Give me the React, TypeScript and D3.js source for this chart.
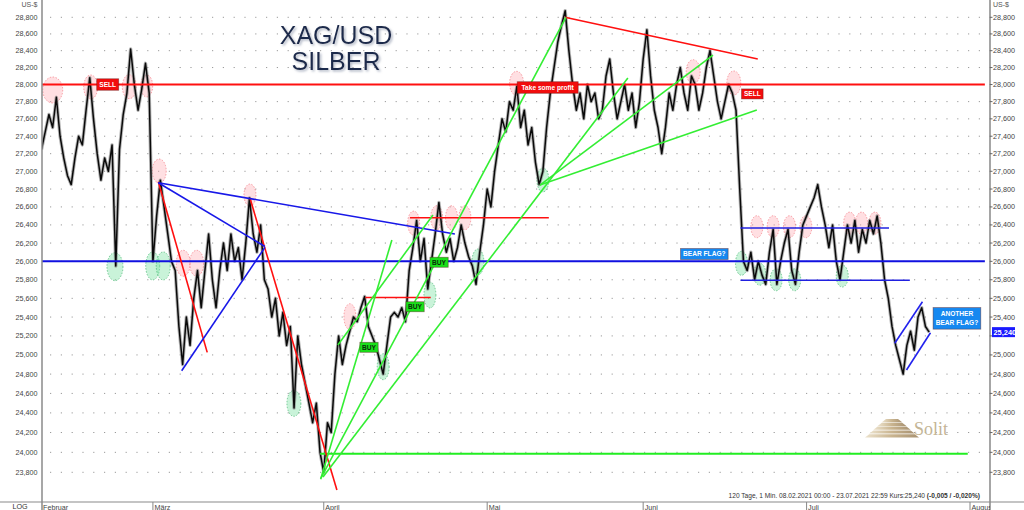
import React from "react";
import * as d3 from "d3";

// Silver (XAG/USD), 1-minute data compressed to half-day samples, 08.02.2021 – 23.07.2021
const STEP = 0.5; // trading days per sample
const PRICES: number[] = [
  27250, 27450, 27650, 27500, 27850, 27400, 27150, 26950, 26850, 27150,
  27400, 27300, 27700, 28080, 27600, 27200, 26900, 27150, 27000, 27300,
  25950, 27250, 27650, 27900, 28420, 28000, 27700, 27950, 28250, 27900,
  26000, 26500, 26900, 26600, 26300, 26000, 25900, 25300, 24900, 25400,
  25100, 25600, 25900, 25500, 25900, 26300, 25800, 25500, 25900, 26200,
  25900, 26300, 26000, 26150, 25800, 26200, 26700, 26300, 26100, 26400,
  25800, 25700, 25400, 25600, 25200, 25450, 25100, 25300, 24450, 25200,
  24900, 24700, 24500, 24300, 24500, 24000, 23800, 24300, 24200, 24800,
  25200, 24900, 25100, 25250, 25400, 25350, 25500, 25620, 25300, 25200,
  25100, 24950, 24800, 25100, 25400, 25450, 25400, 25500, 25350, 25900,
  26150, 26450, 26000, 26250, 25700, 26000, 26300, 26650, 26300, 26100,
  26250, 26000, 26150, 26400, 26200, 26050, 25950, 25750, 26100, 26400,
  26800, 26600, 27000, 27300, 27600, 27450, 27800, 27700, 27980, 27500,
  27700, 27300, 27500, 27100, 26850, 27000, 27500, 27900, 28200, 28500,
  28700, 28880, 28400, 28000, 27700, 27900, 27600, 28000, 27800, 27900,
  27600, 27700, 28100, 28300, 27900, 27600, 27800, 28000, 27700, 27900,
  27500, 27800, 28300, 28650, 28100, 27700, 27500, 27200, 27500, 27900,
  27700, 28000, 28200, 27900, 27700, 28100, 28000, 27700, 27900, 28200,
  28400, 28100, 27800, 27600, 27800, 28000, 27900, 27700, 26800, 26000,
  25900, 26100, 25800, 26000, 25850, 25750, 26100, 26350, 25750, 26000,
  26200, 26350, 25900, 25750, 26100, 26400, 26500, 26600, 26700, 26850,
  26600, 26400, 26150, 26400, 26000, 25800, 26100, 26400, 26200, 26450,
  26100, 26350, 26200, 26450, 26300, 26500, 26200, 25800, 25600, 25300,
  25100, 24950, 24800, 25100, 25250, 25050, 25400, 25500, 25300, 25240,
];

const LAST_PRICE = 25240;
const PRICE_TICKS = [
  23800, 24000, 24200, 24400, 24600, 24800, 25000, 25200, 25400, 25600,
  25800, 26000, 26200, 26400, 26600, 26800, 27000, 27200, 27400, 27600,
  27800, 28000, 28200, 28400, 28600, 28800,
];
const MONTH_LABELS = ["Februar", "März", "April", "Mai", "Juni", "Juli", "August"];
const MONTH_DAYS = [0, 15, 38, 60, 81, 103, 125];

// horizontal levels: [price, fromDay, toDay, colour]
type Level = [number, number, number, string];
const LEVELS: Level[] = [
  [28000, 0, 127, "#ff1010"],
  [26000, 0, 127, "#1010e0"],
  [26480, 49.6, 68.3, "#ff1010"],
  [25610, 43.6, 52.4, "#ff1010"],
  [26365, 94.1, 114.1, "#2020e0"],
  [25796, 94.1, 116.9, "#2020e0"],
  [23985, 37.5, 124.7, "#22ee22"],
];

// trend lines: [day1, price1, day2, price2, colour]
type Trend = [number, number, number, number, string];
const TRENDS: Trend[] = [
  [15.72, 26882, 22.31, 25027, "#ff1010"],
  [28.06, 26699, 39.77, 23624, "#ff1010"],
  [70.46, 28800, 96.43, 28301, "#ff1010"],
  [15.72, 26871, 55.65, 26300, "#1818e8"],
  [15.72, 26871, 30.08, 26162, "#1818e8"],
  [18.87, 24835, 30.08, 26153, "#1818e8"],
  [114.87, 25122, 118.6, 25564, "#2222ee"],
  [116.45, 24842, 119.68, 25234, "#2222ee"],
  [37.62, 23743, 70.6, 28800, "#33ee33"],
  [37.58, 23730, 47.17, 26234, "#33ee33"],
  [39.9, 25104, 52.7, 26510, "#33ee33"],
  [37.89, 23753, 78.94, 28077, "#33ee33"],
  [67.1, 26845, 90.4, 28348, "#33ee33"],
  [67.1, 26845, 96.3, 27703, "#33ee33"],
];

// highlighted zones: [day, price, rx, ry]
type Zone = [number, number, number, number];
const SELL_ZONES: Zone[] = [
  [1.51, 27936, 10, 13], [6.62, 27971, 7, 12], [11.82, 27975, 7, 12], [14.16, 27983, 6, 11],
  [15.85, 27003, 7, 12], [19.08, 25979, 7, 13], [20.89, 25979, 7, 13], [28.06, 26733, 6, 11],
  [41.52, 25404, 6, 13], [63.96, 28014, 7, 12], [87.73, 28151, 7, 12], [93.2, 28018, 7, 12],
  [50.1, 26420, 6, 12], [53.2, 26480, 6, 12], [55.2, 26480, 6, 12], [57.0, 26480, 6, 12],
  [96.3, 26380, 6, 11], [98.5, 26380, 6, 11], [100.7, 26380, 6, 11], [102.9, 26380, 6, 11],
  [108.8, 26420, 6, 11], [110.4, 26420, 6, 11], [112.2, 26420, 6, 11],
];
const BUY_ZONES: Zone[] = [
  [9.89, 25942, 8, 14], [14.97, 25950, 7, 14], [16.39, 25950, 7, 14], [33.98, 24498, 7, 13],
  [46.0, 24877, 6, 13], [52.29, 25636, 6, 13], [58.75, 25993, 6, 13], [67.5, 26902, 6, 12],
  [94.24, 25979, 6, 12], [96.7, 25860, 6, 11], [98.9, 25800, 6, 11], [101.4, 25800, 6, 11],
  [107.8, 25840, 6, 11],
];

// annotation boxes: [text lines, leftDay, centrePrice, width, height, kind]
type Note = [string[], number, number, number, number, "sell" | "buy" | "info"];
const NOTES: Note[] = [
  [["SELL"], 7.43, 28000, 22, 11.5, "sell"],
  [["Take some profit"], 64.04, 27965, 61, 11.6, "sell"],
  [["SELL"], 94.24, 27890, 21.6, 10, "sell"],
  [["BEAR FLAG?"], 86.03, 26080, 47.6, 11, "info"],
  [["ANOTHER", "BEAR FLAG?"], 120.03, 25386, 47.7, 21.6, "info"],
  [["BUY"], 52.29, 25990, 18.3, 10, "buy"],
  [["BUY"], 49.06, 25510, 18.3, 10, "buy"],
  [["BUY"], 42.86, 25080, 18.3, 10, "buy"],
];

const NOTE_STYLE = {
  sell: { fill: "#f20d0d", text: "#ffffff" },
  buy: { fill: "#19e019", text: "#0a2a0a" },
  info: { fill: "#1688f0", text: "#ffffff" },
};

const FONT = "'Liberation Sans', Arial, sans-serif";

export default function App() {
  const W = 1024;
  const H = 510;
  const left = 42;
  const right = 990;
  const bottom = 502;

  const x = d3.scaleLinear().domain([0, 125]).range([41.5, 970]);
  const y = d3.scaleLog().domain([23800, 28800]).range([472.3, 17.3]);
  const fmt = (v: number) => d3.format(",")(v);

  const pricePath = d3
    .line<number>()
    .x((_, i) => x(i * STEP))
    .y((d) => y(d))(PRICES) as string;

  // the last-price badge covers the neighbouring right-hand tick label
  const lastY = y(LAST_PRICE);

  return (
    <svg
      width={W}
      height={H}
      style={{ position: "fixed", left: 0, top: 0, background: "#fff" }}
      fontFamily={FONT}
    >
      <defs>
        <clipPath id="plot">
          <rect x={left} y={0} width={right - left} height={bottom} />
        </clipPath>
        <clipPath id="axisx">
          <rect x={left} y={bottom} width={right - left} height={H - bottom} />
        </clipPath>
        <filter id="shadow" x="-10%" y="-10%" width="130%" height="140%">
          <feDropShadow dx="1.5" dy="1.5" stdDeviation="1.2" floodColor="#9aa3b5" floodOpacity="0.8" />
        </filter>
        <linearGradient id="pyr" x1="0" x2="1" y1="0" y2="0">
          <stop offset="0" stopColor="#ece2cc" />
          <stop offset="0.5" stopColor="#c9b48f" />
          <stop offset="1" stopColor="#a89272" />
        </linearGradient>
      </defs>

      <rect x={0} y={0} width={W} height={H} fill="#fff" />

      {/* dotted price grid */}
      {PRICE_TICKS.map((t) => (
        <line
          key={"g" + t}
          x1={50}
          x2={right}
          y1={y(t)}
          y2={y(t)}
          stroke="#9a9a9a"
          strokeWidth={1}
          strokeDasharray="1.2 9.6"
        />
      ))}

      {/* title */}
      <g filter="url(#shadow)" fill="#1c2a4c" fontFamily={FONT} fontSize={25} textAnchor="middle">
        <text x={336} y={44}>XAG/USD</text>
        <text x={336} y={70}>SILBER</text>
      </g>

      {/* logo */}
      <g>
        {[0, 1, 2, 3, 4].map((i) => {
          const top = 419 + i * 3.8;
          const hw = 6 + i * 4.2;
          const hwB = 6 + (i + 1) * 4.2;
          return (
            <path
              key={"p" + i}
              d={`M${892 - hw},${top} L${892 + hw},${top} L${892 + hwB},${top + 3.2} L${892 - hwB},${top + 3.2} Z`}
              fill="url(#pyr)"
            />
          );
        })}
        <text x={914} y={435} fontFamily="'Liberation Serif', 'DejaVu Serif', serif" fontSize={18} fill="#c4b596">
          Solit
        </text>
      </g>

      <g clipPath="url(#plot)">
        {/* zones */}
        {SELL_ZONES.map(([d, p, rx, ry], i) => (
          <ellipse
            key={"s" + i}
            cx={x(d)}
            cy={y(p)}
            rx={rx}
            ry={ry}
            fill="rgba(255,170,180,0.38)"
            stroke="rgba(240,90,100,0.55)"
            strokeWidth={1}
            strokeDasharray="1.5 1.5"
          />
        ))}
        {BUY_ZONES.map(([d, p, rx, ry], i) => (
          <ellipse
            key={"b" + i}
            cx={x(d)}
            cy={y(p)}
            rx={rx}
            ry={ry}
            fill="rgba(120,225,160,0.4)"
            stroke="rgba(40,170,90,0.6)"
            strokeWidth={1}
            strokeDasharray="1.5 1.5"
          />
        ))}

        {/* price: grey body for the intraday spread, black trace on top */}
        <path d={pricePath} fill="none" stroke="#777" strokeOpacity={0.55} strokeWidth={3.4} strokeLinejoin="round" />
        <path d={pricePath} fill="none" stroke="#0a0a0a" strokeWidth={1.5} strokeLinejoin="round" />

        {/* levels */}
        {LEVELS.map(([p, d1, d2, c], i) => (
          <line key={"l" + i} x1={x(d1)} x2={x(d2)} y1={y(p)} y2={y(p)} stroke={c} strokeWidth={i < 2 || i === 6 ? 2 : 1.5} />
        ))}

        {/* trend lines */}
        {TRENDS.map(([d1, p1, d2, p2, c], i) => (
          <line key={"t" + i} x1={x(d1)} y1={y(p1)} x2={x(d2)} y2={y(p2)} stroke={c} strokeWidth={1.6} />
        ))}

        {/* annotations */}
        {NOTES.map(([lines, d, p, w, h, kind], i) => {
          const st = NOTE_STYLE[kind];
          const bx = x(d);
          const by = y(p) - h / 2;
          return (
            <g key={"n" + i}>
              <rect x={bx} y={by} width={w} height={h} fill={st.fill} stroke="#5a1a1a" strokeOpacity={0.5} strokeWidth={0.8} />
              {lines.map((ln, j) => (
                <text
                  key={j}
                  x={bx + w / 2}
                  y={by + h / 2 + (j - (lines.length - 1) / 2) * 9 + 2.4}
                  textAnchor="middle"
                  fontSize={6.6}
                  fontWeight="bold"
                  fill={st.text}
                >
                  {ln}
                </text>
              ))}
            </g>
          );
        })}
      </g>

      {/* frame */}
      <line x1={left} x2={left} y1={0} y2={H} stroke="#8a8a8a" strokeWidth={1.5} />
      <line x1={right} x2={right} y1={0} y2={H} stroke="#6a6a6a" strokeWidth={1.2} />
      <line x1={0} x2={W} y1={bottom} y2={bottom} stroke="#8a8a8a" strokeWidth={1.2} />

      {/* price axes */}
      <text x={37.5} y={6.5} textAnchor="end" fontSize={7} fill="#555">US-$</text>
      <text x={993} y={6.5} fontSize={7} fill="#555">US-$</text>
      {PRICE_TICKS.map((t) => (
        <g key={"a" + t}>
          <text x={37.5} y={y(t) + 2.5} textAnchor="end" fontSize={7.2} fill="#444">{fmt(t)}</text>
          <line x1={right} x2={right + 2.5} y1={y(t)} y2={y(t)} stroke="#666" />
          {Math.abs(y(t) - lastY) > 6 && (
            <text x={993} y={y(t) + 2.5} fontSize={7.2} fill="#444">{fmt(t)}</text>
          )}
        </g>
      ))}
      <rect x={992} y={lastY - 5} width={23} height={10} fill="#1a1aff" />
      <text x={993.5} y={lastY + 2.6} fontSize={7.4} fontWeight="bold" fill="#fff">{fmt(LAST_PRICE)}</text>

      {/* time axis */}
      <text x={12.5} y={509} fontSize={7.2} fill="#333">LOG</text>
      <g clipPath="url(#axisx)">
        {MONTH_LABELS.map((m, i) => (
          <g key={m}>
            <line x1={x(MONTH_DAYS[i])} x2={x(MONTH_DAYS[i])} y1={bottom} y2={H} stroke="#888" />
            <text x={x(MONTH_DAYS[i]) + 1.5} y={509.5} fontSize={7.2} fill="#444">{m}</text>
          </g>
        ))}
      </g>

      <text x={980} y={498} textAnchor="end" fontSize={6.6} fill="#333">
        120 Tage, 1 Min. 08.02.2021 00:00 - 23.07.2021 22:59 Kurs:25,240{" "}
        <tspan fontWeight="bold">(-0,005 / -0,020%)</tspan>
      </text>
    </svg>
  );
}
